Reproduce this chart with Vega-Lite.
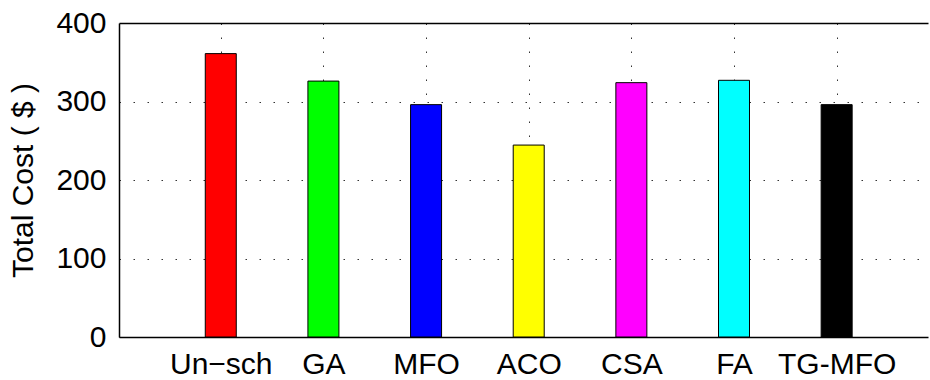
{
  "$schema": "https://vega.github.io/schema/vega-lite/v6.json",
  "autosize": {"type": "none"},
  "padding": {"left": 119, "top": 23, "right": 2, "bottom": 43},
  "width": 809,
  "height": 314,
  "background": "white",
  "config": {
    "view": {"stroke": null},
    "font": "Liberation Sans",
    "axis": {
      "labelFont": "Liberation Sans",
      "titleFont": "Liberation Sans",
      "labelColor": "black",
      "titleColor": "black",
      "domainColor": "black",
      "domainWidth": 1.5,
      "tickColor": "black",
      "gridColor": "#333333",
      "gridDash": [1.5, 12.5],
      "gridWidth": 1
    }
  },
  "data": {
    "values": [
      {"method": "Un\u2212sch", "cost": 361, "color": "#ff0000"},
      {"method": "GA", "cost": 326, "color": "#00ff00"},
      {"method": "MFO", "cost": 296, "color": "#0000ff"},
      {"method": "ACO", "cost": 244.5, "color": "#ffff00"},
      {"method": "CSA", "cost": 324, "color": "#ff00ff"},
      {"method": "FA", "cost": 327, "color": "#00ffff"},
      {"method": "TG-MFO", "cost": 296, "color": "#000000"}
    ]
  },
  "mark": {"type": "bar", "width": 31, "stroke": "black", "strokeWidth": 1},
  "encoding": {
    "x": {
      "field": "method",
      "type": "nominal",
      "sort": null,
      "scale": {"type": "point", "padding": 0.9407, "align": 0.527},
      "axis": {
        "title": null,
        "labelAngle": 0,
        "labelFontSize": 30,
        "labelPadding": 12,
        "tickSize": 0,
        "grid": true
      }
    },
    "y": {
      "field": "cost",
      "type": "quantitative",
      "scale": {"domain": [0, 400], "nice": false},
      "axis": {
        "title": "Total Cost ( $ )",
        "titleFontSize": 30,
        "titleFontWeight": "normal",
        "titlePadding": 17,
        "values": [0, 100, 200, 300, 400],
        "labelFontSize": 30,
        "labelPadding": 13,
        "tickSize": 0,
        "grid": true,
        "gridDash": {"condition": {"test": "datum.value === 400", "value": []}, "value": [1.5, 12.5]},
        "gridColor": {"condition": {"test": "datum.value === 400", "value": "black"}, "value": "#333333"},
        "gridWidth": {"condition": {"test": "datum.value === 400", "value": 1.5}, "value": 1}
      }
    },
    "color": {"field": "color", "type": "nominal", "scale": null, "legend": null}
  }
}
